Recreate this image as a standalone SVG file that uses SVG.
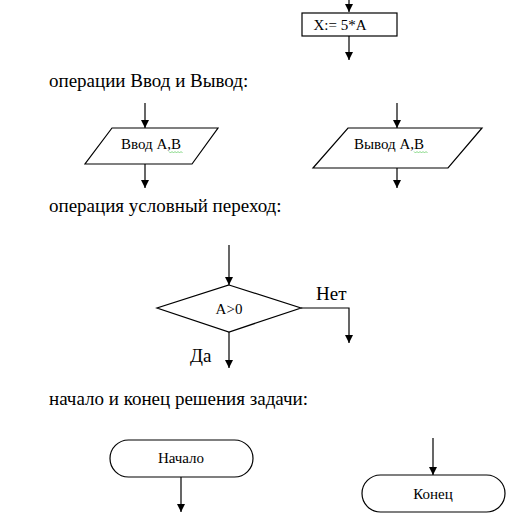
<svg xmlns="http://www.w3.org/2000/svg" width="525" height="521" viewBox="0 0 525 521" font-family="'Liberation Serif', 'Times New Roman', 'DejaVu Serif', serif">
<defs>
<marker id="ah" viewBox="0 0 10 10" refX="10" refY="5" markerWidth="8" markerHeight="8" markerUnits="userSpaceOnUse" orient="auto">
<path d="M0,0 L10,5 L0,10 z" fill="#000"/>
</marker>
</defs>
<style>
.shape{fill:#fff;stroke:#000;stroke-width:1.2}
.edge{fill:none;stroke:#000;stroke-width:1.2;marker-end:url(#ah)}
text{font-family:'Liberation Serif','Times New Roman','DejaVu Serif',serif;fill:#000}
.head{font-size:19px}
.lbl{font-size:15px;text-anchor:middle}
.big{font-size:19px}
.wavy{fill:none;stroke:#6c6;stroke-width:0.8}
</style>
<rect width="525" height="521" fill="#fff"/>
<g id="headings">
<text class="head" x="49" y="87">операции Ввод и Вывод:</text>
<text class="head" x="49" y="212">операция условный переход:</text>
<text class="head" x="49" y="405">начало и конец решения задачи:</text>
</g>
<g id="connectors">
<path class="edge" d="M349,0 V12"/>
<path class="edge" d="M349,36 V60"/>
<path class="edge" d="M145,103 V128"/>
<path class="edge" d="M145,164 V188"/>
<path class="edge" d="M397,103 V128"/>
<path class="edge" d="M397,168 V188"/>
<path class="edge" d="M229,245 V285"/>
<path class="edge" d="M301,308 H349 V343"/>
<path class="edge" d="M229,332 V368"/>
<path class="edge" d="M181,477 V512"/>
<path class="edge" d="M433,438 V475"/>
</g>
<g id="assign">
<rect class="shape" x="302" y="13" width="95" height="23"/>
<text class="lbl" x="340" y="30">X:= 5*A</text>
</g>
<g id="input">
<polygon class="shape" points="112,128 218,128 192,164 85,164"/>
<text class="lbl" x="151" y="149">Ввод А,В</text>
<path class="wavy" d="M169,151.5 l1.5,1.5 l1.5,-1.5 l1.5,1.5 l1.5,-1.5 l1.5,1.5 l1.5,-1.5 l1.5,1.5 l1.5,-1.5 l1.5,1.5"/>
</g>
<g id="output">
<polygon class="shape" points="348,128 482,128 448,168 313,168"/>
<text class="lbl" x="389" y="149">Вывод А,В</text>
<path class="wavy" d="M414,151.5 l1.5,1.5 l1.5,-1.5 l1.5,1.5 l1.5,-1.5 l1.5,1.5 l1.5,-1.5 l1.5,1.5 l1.5,-1.5 l1.5,1.5"/>
</g>
<g id="decision">
<polygon class="shape" points="229,285 301,308 229,332 157,308"/>
<text class="lbl" x="229" y="314">А&gt;0</text>
<text class="big" x="316" y="300">Нет</text>
<text class="big" x="190" y="362">Да</text>
</g>
<g id="start">
<rect class="shape" x="110" y="440" width="143" height="37" rx="18.5" ry="18.5"/>
<text class="lbl" x="181" y="463">Начало</text>
</g>
<g id="end">
<rect class="shape" x="362" y="475" width="143" height="37" rx="18.5" ry="18.5"/>
<text class="lbl" x="433" y="499">Конец</text>
</g>
</svg>
